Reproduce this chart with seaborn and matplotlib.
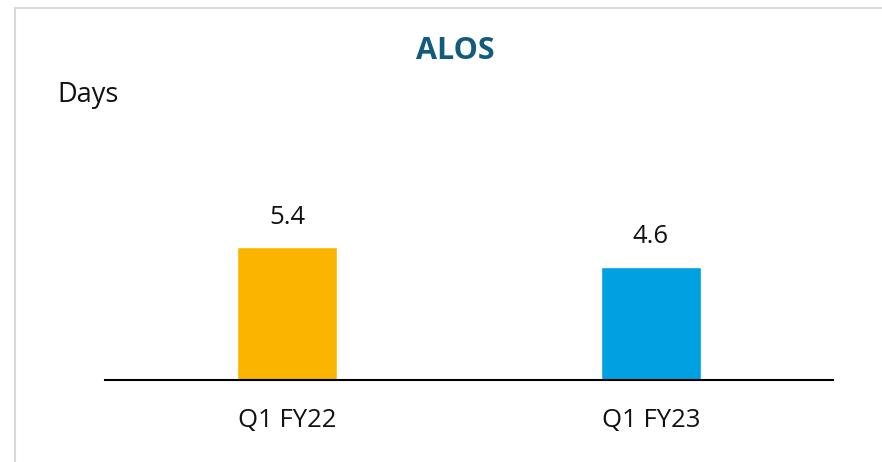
import matplotlib
matplotlib.use("Agg")
import matplotlib.pyplot as plt
from matplotlib.patches import Rectangle
import seaborn as sns
import pandas as pd

categories = ["Q1 FY22", "Q1 FY23"]
values = [5.4, 4.6]
colors = ["#FBB400", "#00A1E1"]
title = "ALOS"
unit_label = "Days"

sns.set_theme(style="white")
plt.rcParams["font.family"] = ["Open Sans", "DejaVu Sans"]

df = pd.DataFrame({"period": categories, "alos": values})

W, H = 882, 462
fig = plt.figure(figsize=(W / 100, H / 100), dpi=100)
fig.patch.set_facecolor("white")

# card border (extends past right and bottom edges)
fig.add_artist(Rectangle((15 / W, -0.1), 1.2, 1.1 - 8 / H, transform=fig.transFigure,
                         fill=False, edgecolor="#D9D9D9", linewidth=1.5))

ax = fig.add_axes([105 / W, (H - 380) / H, (833 - 105) / W, (380 - 150) / H])
sns.barplot(data=df, x="period", y="alos", hue="period", palette=colors,
            width=0.272, legend=False, ax=ax, saturation=1)

ax.set_xlim(-0.5, 1.5)
ax.set_ylim(0, 9.35)
for s in ["top", "right", "left"]:
    ax.spines[s].set_visible(False)
ax.spines["bottom"].set_color("black")
ax.spines["bottom"].set_linewidth(1.5)
ax.set_yticks([])
ax.set_xlabel("")
ax.set_ylabel("")
ax.tick_params(axis="x", length=0, pad=20, labelsize=18.5, labelcolor="#111111")

for i, v in enumerate(values):
    ax.annotate(f"{v:.1f}", (i, v), xytext=(0, 17), textcoords="offset points",
                ha="center", va="baseline", fontsize=18.5, color="#111111")

fig.text(455 / W, 1 - 51 / H, title, ha="center", va="center",
         fontsize=22, fontweight="bold", color="#135B7D")
fig.text(57 / W, 1 - 102 / H, unit_label, ha="left", va="baseline",
         fontsize=19.5, color="#111111")

fig.savefig("out.png", dpi=100, facecolor="white")
